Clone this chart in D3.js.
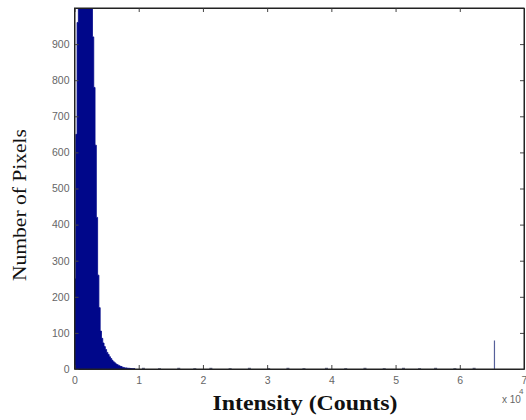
<!DOCTYPE html>
<html>
<head>
<meta charset="utf-8">
<script src="https://cdn.jsdelivr.net/npm/d3@7"></script>
<style>
  body { margin: 0; background: #fff; }
  .tick text { font-family: Arial, "Liberation Sans", sans-serif; font-size: 10.5px; fill: #666; }
</style>
</head>
<body>
<div class="chart"></div>
<script>
// histogram bins (start of bin, x10^4 counts), bin width 0.02
const binWidth = 0.02;
const binStart = [0.00, 0.02, 0.04, 0.06, 0.08, 0.10, 0.12, 0.14, 0.16, 0.18, 0.20, 0.22, 0.24, 0.26,
  0.28, 0.30, 0.32, 0.34, 0.36, 0.38, 0.40, 0.42, 0.44, 0.46, 0.48, 0.50, 0.52, 0.54, 0.56, 0.58,
  0.60, 0.62, 0.64, 0.66, 0.68, 0.70, 0.72, 0.74, 0.76, 0.78, 0.80, 0.82, 0.84, 0.86, 0.88, 0.90, 0.92];
const binCount = [250, 650, 960, 1400, 2200, 3000, 3600, 3900, 3800, 3400, 2800, 2100, 1500, 1150,
  920, 780, 620, 420, 260, 170, 105, 85, 72, 62, 54, 46, 40, 34, 29, 24,
  20, 17, 14, 12, 10, 8, 7, 5, 4, 3, 3, 2, 2, 1.5, 1, 1, 1];

// sparse tail of tiny counts along the baseline
const tailStart = [1.05, 1.3, 1.6, 1.85, 2.1, 2.4, 2.7, 3.0, 3.3, 3.55, 3.9, 4.2, 4.5, 4.8, 5.1, 5.35, 5.6, 5.9, 6.2];
const tailCount = [2, 1, 2, 1, 2, 1, 2, 1, 2, 1, 2, 1, 2, 1, 2, 1, 2, 1, 2];

// saturated spike near the top of the range
const spikeStart = [6.54];
const spikeCount = [79];

const xTicks = [0, 1, 2, 3, 4, 5, 6, 7];
const yTicks = [0, 100, 200, 300, 400, 500, 600, 700, 800, 900];

const width = 526, height = 420;
const margin = ({ top: 8, right: 2, bottom: 51, left: 74.5 });
const plotW = width - margin.left - margin.right;
const plotH = height - margin.top - margin.bottom;

var svg = d3.select(".chart").append("svg")
    .attr("width", width)
    .attr("height", height);

var x = d3.scaleLinear().domain([0, 7]).range([0, plotW]);
var y = d3.scaleLinear().domain([0, 1000]).range([plotH, 0]);

svg.append("defs").append("clipPath").attr("id", "clip")
  .append("rect").attr("width", plotW).attr("height", plotH);

var g = svg.append("g").attr("transform", `translate(${margin.left}, ${margin.top})`);
var plot = g.append("g").attr("clip-path", "url(#clip)");

// histogram as a stepped filled area (avoids hairline gaps between thin bars)
const bins = binStart.map((s, i) => ({ s: s, c: binCount[i] }));
bins.push({ s: binStart[binStart.length - 1] + binWidth, c: 0 });
var area = d3.area()
    .x(d => x(d.s))
    .y0(y(0))
    .y1(d => y(d.c))
    .curve(d3.curveStepAfter);

plot.append("path")
    .datum(bins)
    .attr("d", area)
    .attr("fill", "#00078a")
    .attr("stroke", "#00078a")
    .attr("stroke-width", 0.8);

const tail = tailStart.map((s, i) => ({ s: s, c: tailCount[i] }));
plot.selectAll("rect.tail")
    .data(tail)
    .join("rect")
    .attr("class", "tail")
    .attr("x", d => x(d.s))
    .attr("y", d => y(d.c) - 0.5)
    .attr("width", 3)
    .attr("height", d => y(0) - y(d.c) + 0.5)
    .attr("fill", "#6a7090");

const spikes = spikeStart.map((s, i) => ({ s: s, c: spikeCount[i] }));
plot.selectAll("line.spike")
    .data(spikes)
    .join("line")
    .attr("class", "spike")
    .attr("x1", d => x(d.s)).attr("x2", d => x(d.s))
    .attr("y1", d => y(d.c)).attr("y2", y(0))
    .attr("stroke", "#56609a")
    .attr("stroke-width", 1.2);

// axes (MATLAB style: ticks inside, mirrored)
var xAxis = g.append("g").attr("transform", `translate(0, ${plotH})`)
    .call(d3.axisBottom(x).tickValues(xTicks).tickFormat(d3.format("d")).tickSizeInner(-4).tickSizeOuter(0).tickPadding(8));
var xAxisTop = g.append("g")
    .call(d3.axisTop(x).tickValues(xTicks).tickFormat("").tickSizeInner(-4).tickSizeOuter(0));
var yAxis = g.append("g")
    .call(d3.axisLeft(y).tickValues(yTicks).tickFormat(d3.format("d")).tickSizeInner(-4).tickSizeOuter(0).tickPadding(5));
var yAxisRight = g.append("g").attr("transform", `translate(${plotW}, 0)`)
    .call(d3.axisRight(y).tickValues(yTicks).tickFormat("").tickSizeInner(-4).tickSizeOuter(0));

g.selectAll(".domain").attr("stroke", "#222");
g.selectAll(".tick line").attr("stroke", "#444");

g.append("rect")
    .attr("width", plotW).attr("height", plotH)
    .attr("fill", "none").attr("stroke", "#222").attr("stroke-width", 1);

// exponent label
svg.append("text")
    .attr("x", 502).attr("y", 403)
    .attr("font-family", "Arial, 'Liberation Sans', sans-serif")
    .attr("font-size", "10px").attr("fill", "#666")
    .text("x 10");
svg.append("text")
    .attr("x", 519).attr("y", 394)
    .attr("font-family", "Arial, 'Liberation Sans', sans-serif")
    .attr("font-size", "8px").attr("fill", "#666")
    .text("4");

// axis titles
svg.append("text")
    .attr("x", 305).attr("y", 410)
    .attr("text-anchor", "middle")
    .attr("font-family", "'Liberation Serif', 'DejaVu Serif', serif")
    .attr("font-weight", "bold")
    .attr("font-size", "20px")
    .attr("textLength", 185)
    .attr("lengthAdjust", "spacingAndGlyphs")
    .attr("fill", "#111")
    .text("Intensity (Counts)");

svg.append("text")
    .attr("transform", "translate(26, 205) rotate(-90)")
    .attr("text-anchor", "middle")
    .attr("font-family", "'Liberation Serif', 'DejaVu Serif', serif")
    .attr("font-size", "19px")
    .attr("textLength", 152)
    .attr("lengthAdjust", "spacingAndGlyphs")
    .attr("fill", "#111")
    .text("Number of Pixels");
</script>
</body>
</html>
